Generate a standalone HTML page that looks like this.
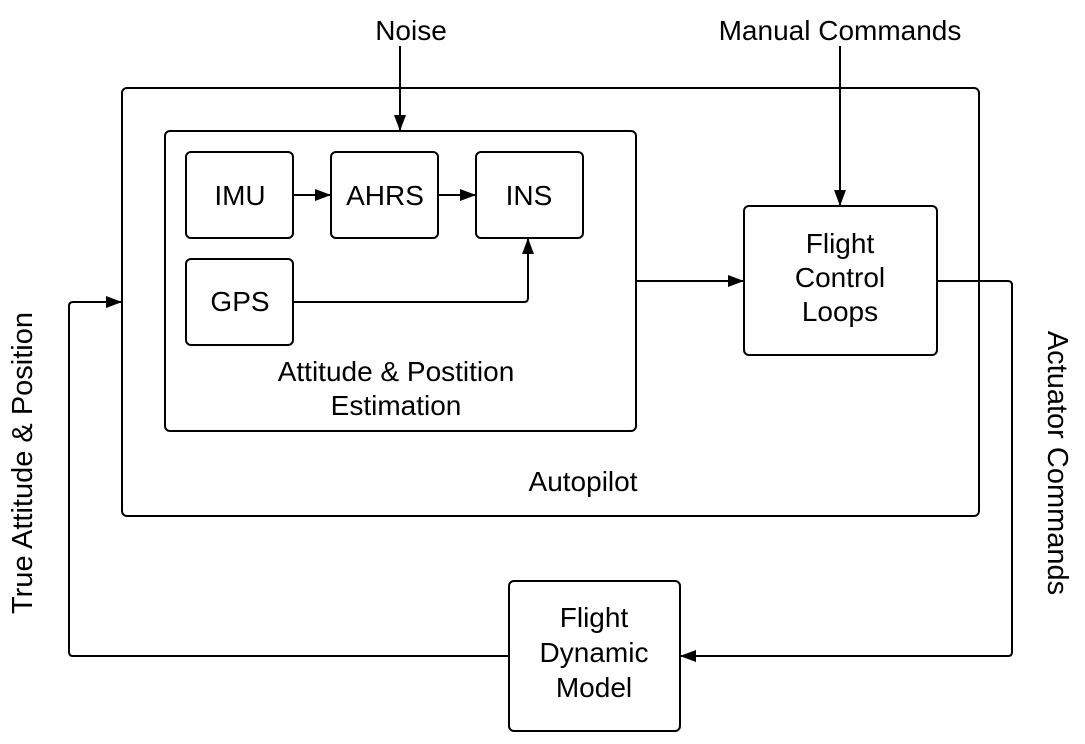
<!DOCTYPE html>
<html><head><meta charset="utf-8"><style>
html,body{margin:0;padding:0;background:#fff;width:1085px;height:744px;overflow:hidden}
svg{display:block}
text{font-family:"Liberation Sans",sans-serif;font-size:28px;fill:#000}
.r{font-size:29px}
</style></head><body>
<svg width="1085" height="744" viewBox="0 0 1085 744" xmlns="http://www.w3.org/2000/svg">
<defs><marker id="a" markerWidth="16" markerHeight="12" refX="15" refY="6" orient="auto" markerUnits="userSpaceOnUse"><path d="M0,0 L16,6 L0,12 z" fill="#000"/></marker></defs>
<g fill="none" stroke="#000" stroke-width="2">
<rect x="122" y="88" width="857" height="428" rx="5"/>
<rect x="165" y="131" width="471" height="300" rx="5"/>
<rect x="186" y="152" width="107" height="86" rx="5"/>
<rect x="331" y="152" width="107" height="86" rx="5"/>
<rect x="476" y="152" width="107" height="86" rx="5"/>
<rect x="186" y="259" width="107" height="86" rx="5"/>
<rect x="744" y="206" width="193" height="149" rx="5"/>
<rect x="509" y="581" width="171" height="150" rx="5"/>
<line x1="400" y1="46" x2="400" y2="130" marker-end="url(#a)"/>
<line x1="840" y1="46" x2="840" y2="205" marker-end="url(#a)"/>
<line x1="293" y1="195" x2="330" y2="195" marker-end="url(#a)"/>
<line x1="438" y1="195" x2="475" y2="195" marker-end="url(#a)"/>
<path d="M293,302 H524 Q528,302 528,298 V239" marker-end="url(#a)"/>
<line x1="636" y1="281" x2="743" y2="281" marker-end="url(#a)"/>
<path d="M937,281 H1008 Q1012,281 1012,285 V652 Q1012,656 1008,656 H681" marker-end="url(#a)"/>
<path d="M509,656 H73 Q69,656 69,652 V306 Q69,302 73,302 H121" marker-end="url(#a)"/>
</g>
<text x="411" y="40" text-anchor="middle">Noise</text>
<text x="840" y="40" text-anchor="middle">Manual Commands</text>
<text x="240" y="205" text-anchor="middle">IMU</text>
<text x="385" y="205" text-anchor="middle">AHRS</text>
<text x="529" y="205" text-anchor="middle">INS</text>
<text x="240" y="311" text-anchor="middle">GPS</text>
<text x="396" y="381" text-anchor="middle">Attitude &amp; Postition</text>
<text x="396" y="415" text-anchor="middle">Estimation</text>
<text x="583" y="491" text-anchor="middle">Autopilot</text>
<text x="840" y="253" text-anchor="middle">Flight</text>
<text x="840" y="287" text-anchor="middle">Control</text>
<text x="840" y="321" text-anchor="middle">Loops</text>
<text x="594" y="627" text-anchor="middle">Flight</text>
<text x="594" y="662" text-anchor="middle">Dynamic</text>
<text x="594" y="697" text-anchor="middle">Model</text>
<text class="r" transform="translate(32,463) rotate(-90)" text-anchor="middle">True Attitude &amp; Position</text>
<text class="r" transform="translate(1048,463) rotate(90)" text-anchor="middle">Actuator Commands</text>
</svg>
</body></html>
